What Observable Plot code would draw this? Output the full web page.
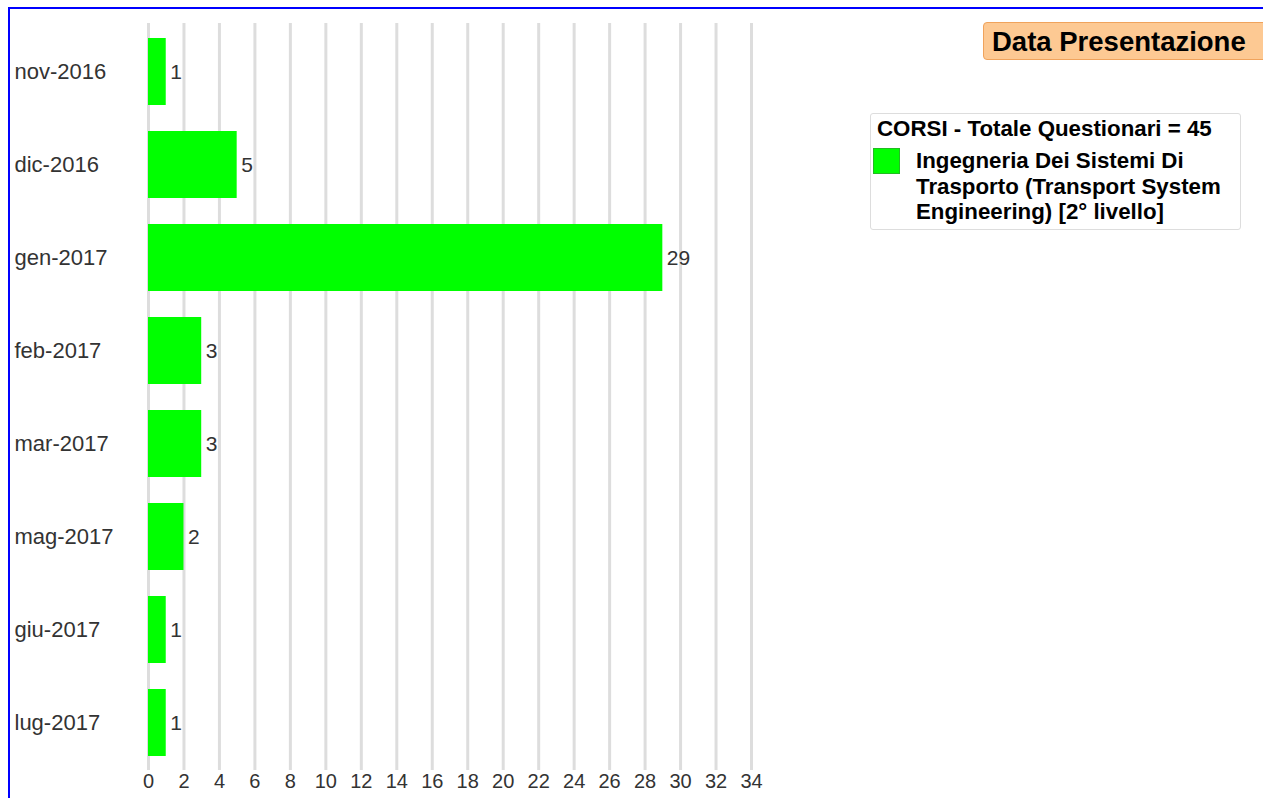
<!DOCTYPE html>
<html>
<head>
<meta charset="utf-8">
<script src="https://cdn.jsdelivr.net/npm/d3@7"></script>
<script src="https://cdn.jsdelivr.net/npm/@observablehq/plot@0.6"></script>
<style>
  html, body { margin: 0; padding: 0; background: #fff; }
  #wrap { position: relative; width: 1263px; height: 798px; overflow: hidden; font-family: "Liberation Sans", Arial, sans-serif; }
  #chart { position: absolute; left: 0; top: 0; }
  .bl { position: absolute; left: 8px; top: 7px; width: 2px; height: 800px; background: #0000ff; }
  .bt { position: absolute; left: 8px; top: 7px; width: 1260px; height: 2px; background: #0000ff; }
  #title { position: absolute; left: 983px; top: 22px; width: 290px; height: 38px; box-sizing: border-box;
           background: #fdc993; border: 1px solid #f0a35c; border-radius: 4px;
           font-weight: bold; font-size: 27.5px; line-height: 37px; padding-left: 8px; color: #000; white-space: nowrap; }
  #legend { position: absolute; left: 870px; top: 113px; width: 371px; height: 117px; box-sizing: border-box;
            background: #fff; border: 1px solid #ddd; border-radius: 3px; font-weight: bold; color: #000; }
  #legend .lt { position: absolute; left: 6px; top: 2px; font-size: 22.3px; line-height: 26px; white-space: nowrap; }
  #legend .sw { position: absolute; left: 2px; top: 34px; width: 27px; height: 26px; box-sizing: border-box;
                background: #00ff00; border: 1px solid #22bb22; }
  #legend .li { position: absolute; left: 45px; top: 34px; font-size: 22.3px; line-height: 25.5px; white-space: nowrap; }
</style>
</head>
<body>
<div id="wrap">
  <div id="chart"></div>
  <div class="bl"></div>
  <div class="bt"></div>
  <div id="title"></div>
  <div id="legend"><div class="lt"></div><div class="sw"></div><div class="li"></div></div>
</div>
<script>
const months = ["nov-2016", "dic-2016", "gen-2017", "feb-2017", "mar-2017", "mag-2017", "giu-2017", "lug-2017"];
const counts = [1, 5, 29, 3, 3, 2, 1, 1];
const xTicks = [0, 2, 4, 6, 8, 10, 12, 14, 16, 18, 20, 22, 24, 26, 28, 30, 32, 34];
const chartTitle = "Data Presentazione";
const legendTitle = "CORSI - Totale Questionari = 45";
const legendLines = ["Ingegneria Dei Sistemi Di", "Trasporto (Transport System", "Engineering) [2° livello]"];

const data = months.map((m, i) => ({month: m, count: counts[i]}));

const chart = Plot.plot({
  width: 1263,
  height: 798,
  marginLeft: 148,
  marginRight: 512,
  marginTop: 23,
  marginBottom: 28,
  style: {fontFamily: "'Liberation Sans', Arial, sans-serif", background: "transparent"},
  x: {domain: [0, 34], axis: null, label: null},
  y: {domain: months, paddingInner: 0.28, paddingOuter: 0.14, axis: null, label: null},
  marks: [
    Plot.gridX(xTicks, {stroke: "#dddddd", strokeOpacity: 1, strokeWidth: 3}),
    Plot.barX(data, {x: "count", y: "month", fill: "#00ff00"}),
    Plot.text(data, {x: "count", y: "month", text: d => String(d.count), dx: 4, textAnchor: "start", fontSize: 21, fill: "#333"}),
    Plot.axisX({ticks: xTicks, tickSize: 0, tickPadding: 3, fontSize: 20, fill: "#333", label: null}),
    Plot.axisY({tickSize: 0, tickPadding: 134, textAnchor: "start", fontSize: 22, fill: "#333", label: null})
  ]
});
document.getElementById("chart").appendChild(chart);
document.getElementById("title").textContent = chartTitle;
document.querySelector("#legend .lt").textContent = legendTitle;
document.querySelector("#legend .li").innerHTML = legendLines.map(s => s.replace(/&/g, "&amp;").replace(/</g, "&lt;")).join("<br>");
</script>
</body>
</html>
